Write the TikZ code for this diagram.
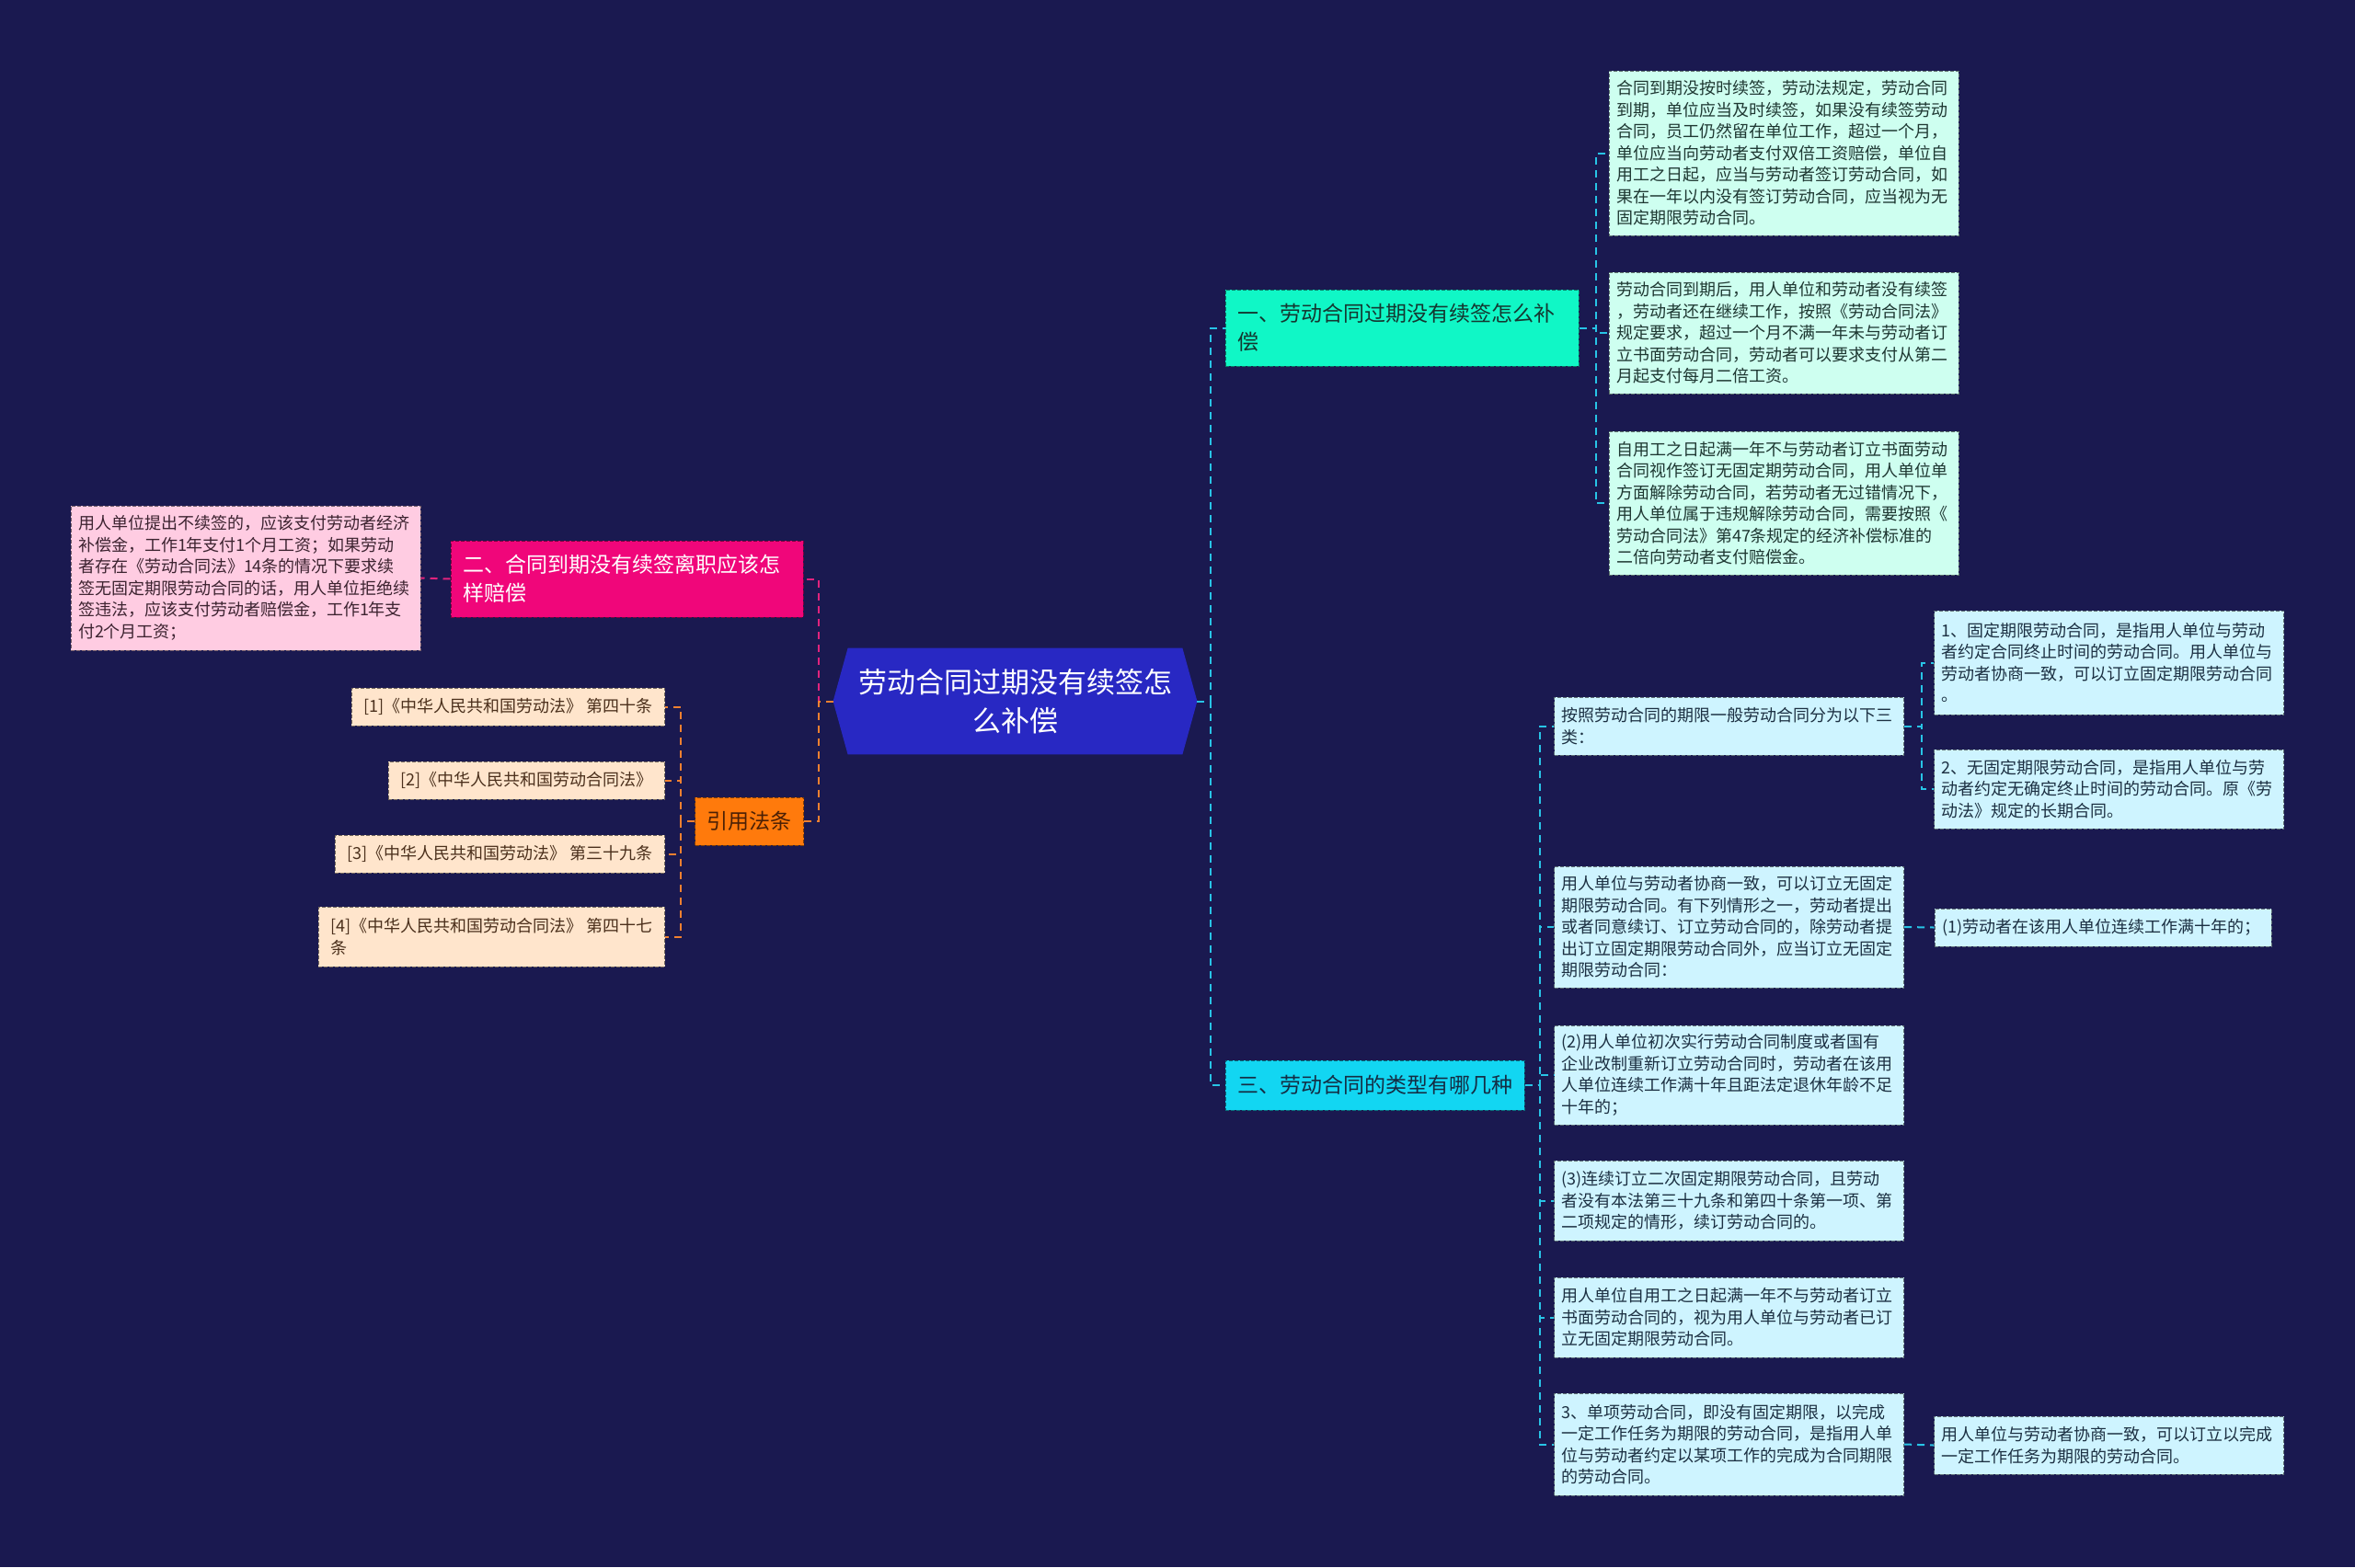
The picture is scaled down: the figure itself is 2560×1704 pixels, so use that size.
\documentclass[tikz,border=0pt]{standalone}
\usepackage{fontspec}
\setmainfont{Noto Sans CJK SC}
\usetikzlibrary{backgrounds}
\definecolor{bgc}{RGB}{26,25,80}
\definecolor{rootfill}{RGB}{40,40,195}
\definecolor{bonefill}{RGB}{16,247,198}
\definecolor{bonetext}{RGB}{20,55,48}
\definecolor{lonefill}{RGB}{206,255,240}
\definecolor{lonetext}{RGB}{30,55,50}
\definecolor{btwofill}{RGB}{240,6,122}
\definecolor{ltwofill}{RGB}{255,204,226}
\definecolor{ltwotext}{RGB}{60,35,48}
\definecolor{reffill}{RGB}{255,122,12}
\definecolor{reftext}{RGB}{75,32,5}
\definecolor{rfill}{RGB}{255,229,204}
\definecolor{rtext}{RGB}{75,48,28}
\definecolor{bthreefill}{RGB}{18,214,242}
\definecolor{bthreetext}{RGB}{20,45,68}
\definecolor{lthreefill}{RGB}{206,244,255}
\definecolor{lthreetext}{RGB}{28,48,66}
\definecolor{lcyan}{RGB}{40,196,230}
\definecolor{lpink}{RGB}{225,35,125}
\definecolor{lorange}{RGB}{240,128,48}
\tikzset{
  boxbase/.style={rectangle, inner ysep=0pt, dash pattern=on 2pt off 1pt, line width=0.5pt},
  leafbase/.style={boxbase, text width=182pt, inner xsep=4pt, align=left, font=\fontsize{9pt}{11.75pt}\selectfont},
  leafone/.style={leafbase, fill=lonefill, draw=lonefill!45!black, text=lonetext},
  leaftwo/.style={leafbase, fill=ltwofill, draw=ltwofill!45!black, text=ltwotext},
  leafthree/.style={leafbase, fill=lthreefill, draw=lthreefill!45!black, text=lthreetext},
  refitem/.style={boxbase, inner xsep=6.5pt, fill=rfill, draw=rfill!45!black, text=rtext, anchor=east, font=\fontsize{9pt}{11.75pt}\selectfont},
  branchbase/.style={boxbase, inner xsep=6.5pt, font=\fontsize{11.5pt}{15.5pt}\selectfont},
  conbase/.style={line width=1pt, dash pattern=on 4pt off 3pt},
  concyan/.style={conbase, draw=lcyan},
  conpink/.style={conbase, draw=lpink},
  conorange/.style={conbase, draw=lorange}
}
\begin{document}
\begin{tikzpicture}[x=0.5pt,y=-0.5pt]
\useasboundingbox (0,0) rectangle (2560,1704);

% root
\node[minimum width=197.5pt, minimum height=57.5pt, inner sep=0pt, align=center, text=white,
      font=\fontsize{15.5pt}{21pt}\selectfont] (root) at (1103.5,762.5) {劳动合同过期没有续签怎\\么补偿};

% branches
\node[branchbase, fill=bonefill, draw=bonefill!50!black, text=bonetext, text width=179pt, align=left, minimum height=41.5pt] (b1) at (1524,356.5) {一、劳动合同过期没有续签怎么补\\偿};
\node[branchbase, fill=btwofill, draw=btwofill!50!black, text=white, text width=178.5pt, align=left, minimum height=41.5pt] (b2) at (681.5,629.5) {二、合同到期没有续签离职应该怎\\样赔偿};
\node[branchbase, fill=bthreefill, draw=bthreefill!50!black, text=bthreetext, minimum width=162.5pt, minimum height=27pt] (b3) at (1494.5,1180) {三、劳动合同的类型有哪几种};
\node[branchbase, fill=reffill, draw=reffill!50!black, text=reftext, minimum width=58.5pt, minimum height=26pt] (ref) at (814.5,893) {引用法条};

% branch 1 leaves
\node[leafone, minimum height=89.5pt] (l1a) at (1939,166.5) {合同到期没按时续签，劳动法规定，劳动合同\\到期，单位应当及时续签，如果没有续签劳动\\合同，员工仍然留在单位工作，超过一个月，\\单位应当向劳动者支付双倍工资赔偿，单位自\\用工之日起，应当与劳动者签订劳动合同，如\\果在一年以内没有签订劳动合同，应当视为无\\固定期限劳动合同。};
\node[leafone, minimum height=66pt] (l1b) at (1939,362) {劳动合同到期后，用人单位和劳动者没有续签\\，劳动者还在继续工作，按照《劳动合同法》\\规定要求，超过一个月不满一年未与劳动者订\\立书面劳动合同，劳动者可以要求支付从第二\\月起支付每月二倍工资。};
\node[leafone, minimum height=78pt] (l1c) at (1939,547) {自用工之日起满一年不与劳动者订立书面劳动\\合同视作签订无固定期劳动合同，用人单位单\\方面解除劳动合同，若劳动者无过错情况下，\\用人单位属于违规解除劳动合同，需要按照《\\劳动合同法》第47条规定的经济补偿标准的\\二倍向劳动者支付赔偿金。};

% branch 2 leaf
\node[leaftwo, minimum height=78.5pt] (l2a) at (267,628.5) {用人单位提出不续签的，应该支付劳动者经济\\补偿金，工作1年支付1个月工资；如果劳动\\者存在《劳动合同法》14条的情况下要求续\\签无固定期限劳动合同的话，用人单位拒绝续\\签违法，应该支付劳动者赔偿金，工作1年支\\付2个月工资；};

% references
\node[refitem, minimum height=20.5pt] (r1) at (723,768.5) {[1]《中华人民共和国劳动法》 第四十条};
\node[refitem, minimum height=20.5pt] (r2) at (723,848.5) {[2]《中华人民共和国劳动合同法》};
\node[refitem, minimum height=20.5pt] (r3) at (723,928.5) {[3]《中华人民共和国劳动法》 第三十九条};
\node[refitem, minimum height=32.5pt, align=left] (r4) at (723,1018.5) {[4]《中华人民共和国劳动合同法》 第四十七\\条};

% branch 3 leaves
\node[leafthree, minimum height=31.5pt] (l3a) at (1879.5,789.5) {按照劳动合同的期限一般劳动合同分为以下三\\类：};
\node[leafthree, minimum height=66pt] (l3b) at (1879.5,1008) {用人单位与劳动者协商一致，可以订立无固定\\期限劳动合同。有下列情形之一，劳动者提出\\或者同意续订、订立劳动合同的，除劳动者提\\出订立固定期限劳动合同外，应当订立无固定\\期限劳动合同：};
\node[leafthree, minimum height=54pt] (l3c) at (1879.5,1169) {(2)用人单位初次实行劳动合同制度或者国有\\企业改制重新订立劳动合同时，劳动者在该用\\人单位连续工作满十年且距法定退休年龄不足\\十年的；};
\node[leafthree, minimum height=43.5pt] (l3d) at (1879.5,1305.5) {(3)连续订立二次固定期限劳动合同，且劳动\\者没有本法第三十九条和第四十条第一项、第\\二项规定的情形，续订劳动合同的。};
\node[leafthree, minimum height=43.5pt] (l3e) at (1879.5,1432.5) {用人单位自用工之日起满一年不与劳动者订立\\书面劳动合同的，视为用人单位与劳动者已订\\立无固定期限劳动合同。};
\node[leafthree, minimum height=55.5pt] (l3f) at (1879.5,1570.5) {3、单项劳动合同，即没有固定期限，以完成\\一定工作任务为期限的劳动合同，是指用人单\\位与劳动者约定以某项工作的完成为合同期限\\的劳动合同。};

\node[leafthree, minimum height=56.5pt] (l3a1) at (2292.5,720.5) {1、固定期限劳动合同，是指用人单位与劳动\\者约定合同终止时间的劳动合同。用人单位与\\劳动者协商一致，可以订立固定期限劳动合同\\。};
\node[leafthree, minimum height=43pt] (l3a2) at (2292.5,858) {2、无固定期限劳动合同，是指用人单位与劳\\动者约定无确定终止时间的劳动合同。原《劳\\动法》规定的长期合同。};
\node[leafthree, text width=175pt, minimum height=20.5pt] (l3b1) at (2286,1008.5) {(1)劳动者在该用人单位连续工作满十年的；};
\node[leafthree, minimum height=31.5pt] (l3f1) at (2292.5,1571.5) {用人单位与劳动者协商一致，可以订立以完成\\一定工作任务为期限的劳动合同。};

% background and root hexagon
\begin{scope}[on background layer]
\fill[bgc] (0,0) rectangle (2560,1704);
\fill[rootfill] (root.west) -- ([xshift=8pt]root.north west) -- ([xshift=-8pt]root.north east) -- (root.east) -- ([xshift=-8pt]root.south east) -- ([xshift=8pt]root.south west) -- cycle;
\end{scope}

% connectors
\draw[concyan] (root.east) -- ++(15,0) |- (b1.west);
\draw[concyan] (root.east) -- ++(15,0) |- (b3.west);
\draw[conpink] (root.west) -- ++(-16,0) |- (b2.east);
\draw[conorange] (root.west) -- ++(-16,0) |- (ref.east);

\draw[concyan] (b1.east) -- ++(18,0) |- (l1a.west);
\draw[concyan] (b1.east) -- ++(18,0) |- (l1b.west);
\draw[concyan] (b1.east) -- ++(18,0) |- (l1c.west);

\draw[conpink] (b2.west) -- (l2a.east);

\draw[conorange] (ref.west) -- ++(-15,0) |- (r1.east);
\draw[conorange] (ref.west) -- ++(-15,0) |- (r2.east);
\draw[conorange] (ref.west) -- ++(-15,0) |- (r3.east);
\draw[conorange] (ref.west) -- ++(-15,0) |- (r4.east);

\draw[concyan] (b3.east) -- ++(16,0) |- (l3a.west);
\draw[concyan] (b3.east) -- ++(16,0) |- (l3b.west);
\draw[concyan] (b3.east) -- ++(16,0) |- (l3c.west);
\draw[concyan] (b3.east) -- ++(16,0) |- (l3d.west);
\draw[concyan] (b3.east) -- ++(16,0) |- (l3e.west);
\draw[concyan] (b3.east) -- ++(16,0) |- (l3f.west);

\draw[concyan] (l3a.east) -- ++(19,0) |- (l3a1.west);
\draw[concyan] (l3a.east) -- ++(19,0) |- (l3a2.west);
\draw[concyan] (l3b.east) -- (l3b1.west);
\draw[concyan] (l3f.east) -- (l3f1.west);
\end{tikzpicture}
\end{document}
